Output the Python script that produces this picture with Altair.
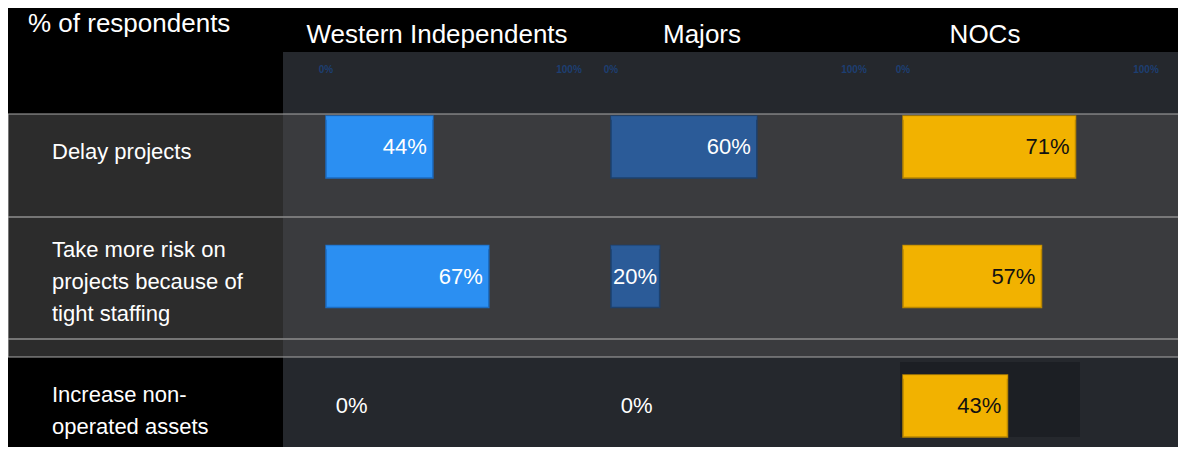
import altair as alt
import pandas as pd

# ---------------- data ----------------
groups = ["Western Independents", "Majors", "NOCs"]
categories = ["Delay projects",
              "Take more risk on projects because of tight staffing",
              "Increase non-operated assets"]
category_lines = ["Delay projects",
                  "Take more risk on\nprojects because of\ntight staffing",
                  "Increase non-\noperated assets"]
western = [44, 67, 0]
majors = [60, 20, 0]
nocs = [71, 57, 43]
tick_values = [0, 100]
tick_labels = ["0%", "100%"]
y_title = "% of respondents"

# ---------------- layout / style ----------------
W, H = 1170, 439
PX_PER_PCT = 2.43
group_start_px = [318, 603, 895]
header_center_px = [429, 694, 977]
ROW0_PX, ROW_STEP = 139, 129.5
HALF_BAR = 0.24
LINE_H = 32
FONT = "Liberation Sans, Arial, sans-serif"
bar_colors = ["#2b8ff2", "#2b5b98", "#f2b200"]
bar_strokes = ["#1b6cc2", "#1d416e", "#b88600"]
bar_tops = ["#6ab8ff", "#4d7db8", "#ffd84a"]
label_colors = ["#ffffff", "#ffffff", "#111111"]

series = [western, majors, nocs]
rows = []
for gi, g in enumerate(groups):
    for ri, c in enumerate(categories):
        rows.append({"group": g, "category": c, "row": ri,
                     "value": series[gi][ri],
                     "start": group_start_px[gi] / PX_PER_PCT})
bars_df = pd.DataFrame(rows)

ticks_df = pd.DataFrame([{"group": g, "tick": tv, "tlabel": tl,
                          "start": group_start_px[gi] / PX_PER_PCT}
                         for gi, g in enumerate(groups)
                         for tv, tl in zip(tick_values, tick_labels)])
headers_df = pd.DataFrame({"group": groups,
                           "hx": [p / PX_PER_PCT for p in header_center_px]})
rowlab_df = pd.DataFrame({"row": [0, 1, 2], "label": category_lines})

xscale = alt.Scale(domain=[0, W / PX_PER_PCT], nice=False, zero=False)
yscale = alt.Scale(domain=[-ROW0_PX / ROW_STEP, (H - ROW0_PX) / ROW_STEP],
                   nice=False, zero=False, reverse=True)
fill_scale = alt.Scale(domain=groups, range=bar_colors)
stroke_scale = alt.Scale(domain=groups, range=bar_strokes)
top_scale = alt.Scale(domain=groups, range=bar_tops)
text_scale = alt.Scale(domain=groups, range=label_colors)

one = alt.Data(values=[{}])


def deco_rect(x, x2, y, y2, **kw):
    return alt.Chart(one).mark_rect(**kw).encode(
        x=alt.value(x), x2=alt.value(x2), y=alt.value(y), y2=alt.value(y2))


def deco_rule(x, x2, y, **kw):
    return alt.Chart(one).mark_rule(**kw).encode(
        x=alt.value(x), x2=alt.value(x2), y=alt.value(y))


panel = deco_rect(275, W, 44, H, color="#25282d")
hl_left = deco_rect(0, W, 106, 349, color="#2c2c2c")
hl_right = deco_rect(275, W, 106, 349, color="#3a3b3e")
dark_box = deco_rect(892, 1072, 354, 429, color="#1c1f24")
hl_border = deco_rect(0, W + 2, 106, 349, fill=None, stroke="#a8a8a8",
                      strokeWidth=1.2, fillOpacity=0)
div1 = deco_rule(0, W, 209, color="#8e8e8e", strokeWidth=1.5)
div2 = deco_rule(0, W, 331, color="#8e8e8e", strokeWidth=1.5)

base = alt.Chart(bars_df).transform_calculate(
    x_end="datum.start + datum.value",
    y_top="datum.row - %f" % HALF_BAR,
    y_bot="datum.row + %f" % HALF_BAR,
    y_hi="datum.row - %f" % (HALF_BAR - 0.03),
    label="datum.value + '%'",
)

bars = base.transform_filter("datum.value > 0").mark_bar(
    strokeWidth=1.5).encode(
    x=alt.X("start:Q", scale=xscale, axis=None),
    x2="x_end:Q",
    y=alt.Y("y_top:Q", scale=yscale, axis=None),
    y2="y_bot:Q",
    fill=alt.Fill("group:N", scale=fill_scale, legend=None),
    stroke=alt.Stroke("group:N", scale=stroke_scale, legend=None),
)

bar_tops_layer = base.transform_filter("datum.value > 0").mark_bar(
    opacity=0.8).encode(
    x=alt.X("start:Q", scale=xscale, axis=None),
    x2="x_end:Q",
    y=alt.Y("y_top:Q", scale=yscale, axis=None),
    y2="y_hi:Q",
    fill=alt.Fill("group:N", scale=top_scale, legend=None),
)

pos_labels = base.transform_filter("datum.value > 0").transform_calculate(
    lx="datum.start + max(datum.value - 2.5, 19)"
).mark_text(align="right", baseline="middle", fontSize=22, font=FONT).encode(
    x=alt.X("lx:Q", scale=xscale, axis=None),
    y=alt.Y("row:Q", scale=yscale, axis=None),
    text="label:N",
    color=alt.Color("group:N", scale=text_scale, legend=None),
)

zero_labels = base.transform_filter("datum.value == 0").transform_calculate(
    lx="datum.start + 4"
).mark_text(align="left", baseline="middle", fontSize=22, font=FONT,
            color="#ffffff").encode(
    x=alt.X("lx:Q", scale=xscale, axis=None),
    y=alt.Y("row:Q", scale=yscale, axis=None),
    text="label:N",
)

tick_text = alt.Chart(ticks_df).transform_calculate(
    tx="datum.start + datum.tick"
).mark_text(align="center", baseline="middle", fontSize=10, font=FONT,
            fontWeight="bold", color="#1d3f72").encode(
    x=alt.X("tx:Q", scale=xscale, axis=None),
    y=alt.value(62),
    text="tlabel:N",
)

headers = alt.Chart(headers_df).mark_text(
    align="center", baseline="middle", fontSize=26, font=FONT,
    color="#ffffff").encode(
    x=alt.X("hx:Q", scale=xscale, axis=None),
    y=alt.value(27),
    text="group:N",
)

title_text = alt.Chart(alt.Data(values=[{"t": y_title}])).mark_text(
    align="left", baseline="middle", fontSize=26, font=FONT,
    color="#ffffff").encode(
    x=alt.value(20), y=alt.value(16), text="t:N")

row_labels = alt.Chart(rowlab_df).transform_calculate(
    ly="datum.row - (split(datum.label, '\\n').length - 1) * %f" % (LINE_H / 2 / ROW_STEP)
).mark_text(
    align="left", baseline="middle", fontSize=22, font=FONT,
    color="#ffffff", lineBreak="\n", lineHeight=LINE_H, dy=5).encode(
    x=alt.value(44),
    y=alt.Y("ly:Q", scale=yscale, axis=None),
    text="label:N",
)

chart = alt.layer(
    panel, hl_left, hl_right, dark_box, div1, div2, hl_border,
    bars, bar_tops_layer, pos_labels, zero_labels, tick_text, headers,
    title_text, row_labels,
).properties(
    width=W, height=H, padding=0,
    autosize=alt.AutoSizeParams(type="none"),
    background="#000000",
).configure_view(stroke=None)

chart.save("out.html", embed_options={"renderer": "svg", "actions": False})
